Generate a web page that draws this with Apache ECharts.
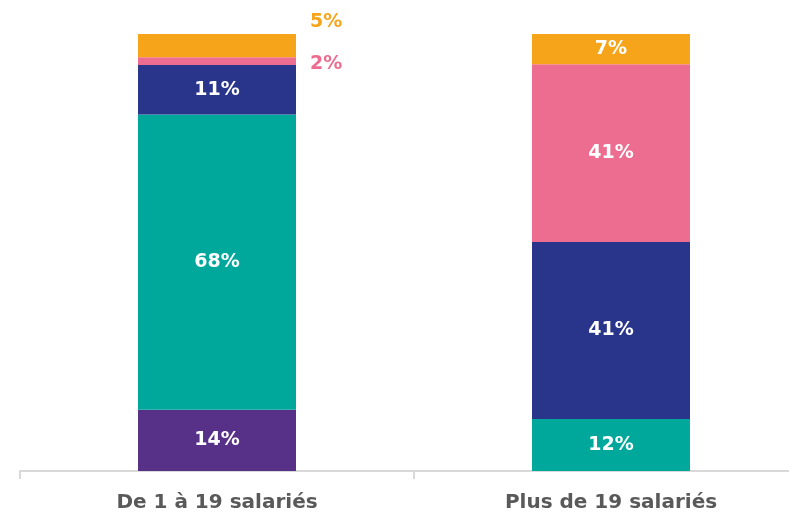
<!DOCTYPE html>
<html>
<head>
<meta charset="utf-8">
<script src="https://cdn.jsdelivr.net/npm/echarts@6/dist/echarts.min.js"></script>
<style>
  html, body { margin: 0; padding: 0; background: #fff; overflow: hidden; }
  /* the axis runs past the right edge of the picture, so the chart is wider than the window */
  #main { width: 808px; height: 516px; }
</style>
</head>
<body>
<div id="main"></div>
<script>
// categories
const categories = ['De 1 à 19 salariés', 'Plus de 19 salariés'];

// series values (bottom to top)
const purpleValues = [14, null];
const tealValues = [67.6, 11.9];
const navyValues = [11.3, 40.5];
const pinkValues = [1.8, 40.7];
const orangeValues = [5.3, 6.9];

const colors = {
    purple: '#573088',
    teal: '#00A89B',
    navy: '#29358B',
    pink: '#EC6D8F',
    orange: '#F6A51B'
};

const labelFont = '"DejaVu Sans", sans-serif';

function fmt(p) {
    return Math.round(p.value) + '%';
}

function insideLabel() {
    return {
        show: true,
        position: 'inside',
        color: '#fff',
        fontFamily: labelFont,
        fontWeight: 'bold',
        fontSize: 19,
        formatter: fmt
    };
}

// small segments on the left bar get their label outside, to the right
function withOutside(values, color, offsetY) {
    return values.map((v, i) => {
        if (i === 0) {
            return {
                value: v,
                label: {
                    show: true,
                    position: 'right',
                    distance: 14,
                    offset: [0, offsetY],
                    color: color,
                    fontFamily: labelFont,
                    fontWeight: 'bold',
                    fontSize: 19,
                    formatter: fmt
                }
            };
        }
        return v;
    });
}

function makeSeries(name, data, color) {
    return {
        name: name,
        type: 'bar',
        stack: 'total',
        barWidth: 158,
        data: data,
        itemStyle: { color: color },
        label: insideLabel()
    };
}

const option = {
    animation: false,
    grid: {
        left: 20,
        right: 0,
        top: 34,
        bottom: 45,
        containLabel: false
    },
    xAxis: {
        type: 'category',
        data: categories,
        axisLine: { lineStyle: { color: '#d9d9d9', width: 2 } },
        axisTick: { show: true, length: 8, lineStyle: { color: '#d9d9d9', width: 2 } },
        axisLabel: {
            color: '#595959',
            fontFamily: labelFont,
            fontWeight: 'bold',
            fontSize: 20,
            margin: 22
        }
    },
    yAxis: {
        type: 'value',
        min: 0,
        max: 100,
        show: false,
        splitLine: { show: false }
    },
    series: [
        makeSeries('purple', purpleValues, colors.purple),
        makeSeries('teal', tealValues, colors.teal),
        makeSeries('navy', navyValues, colors.navy),
        makeSeries('pink', withOutside(pinkValues, colors.pink, 3), colors.pink),
        makeSeries('orange', withOutside(orangeValues, colors.orange, -24), colors.orange)
    ]
};

let plot = echarts.init(document.querySelector('#main'));
plot.setOption(option);
</script>
</body>
</html>
